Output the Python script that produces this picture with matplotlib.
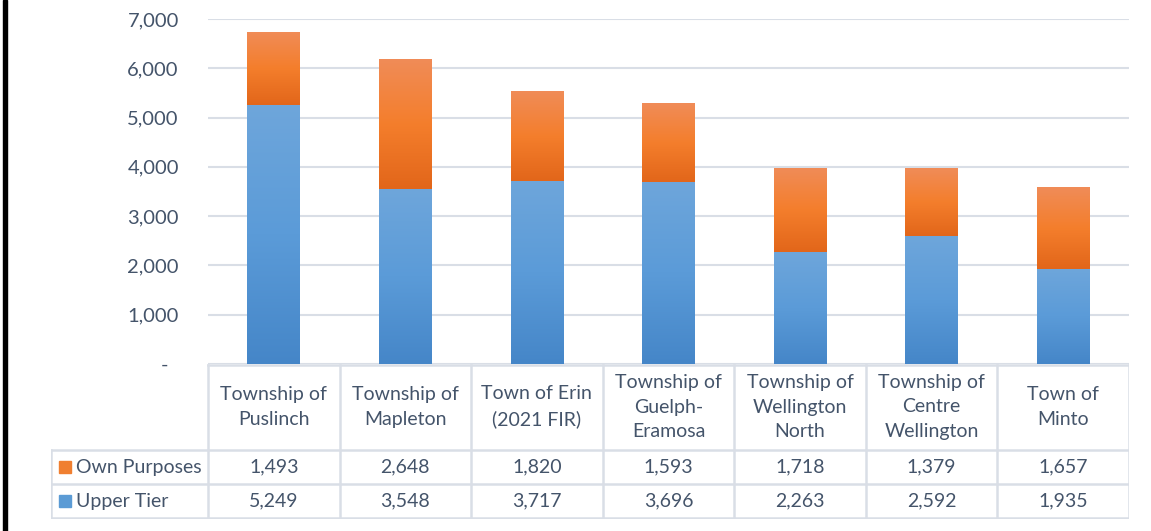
import numpy as np
import matplotlib.pyplot as plt
from matplotlib.colors import LinearSegmentedColormap
from matplotlib.patches import Rectangle
from matplotlib.ticker import FuncFormatter

# data
municipalities = ['Township of\nPuslinch', 'Township of\nMapleton', 'Town of Erin\n(2021 FIR)',
                  'Township of\nGuelph-\nEramosa', 'Township of\nWellington\nNorth',
                  'Township of\nCentre\nWellington', 'Town of\nMinto']
upper_tier = [5249, 3548, 3717, 3696, 2263, 2592, 1935]
own_purposes = [1493, 2648, 1820, 1593, 1718, 1379, 1657]
series_names = ['Own Purposes', 'Upper Tier']

plt.rcParams['font.family'] = ['Lato', 'DejaVu Sans']
TXT = '#44546A'
GRID = '#D9DEE6'
FS = 14

W, H = 1151, 531
fig = plt.figure(figsize=(W / 100, H / 100), dpi=100)
fig.patch.set_facecolor('white')

def px(l, t, r, b):
    return [l / W, 1 - b / H, (r - l) / W, (b - t) / H]

ax = fig.add_axes(px(208, 19, 1129, 364))
n = len(municipalities)
x = np.arange(n)
bw = 0.40

blue_cm = LinearSegmentedColormap.from_list('b', ['#6EA6DB', '#5B9BD8', '#4586C8'])
orange_cm = LinearSegmentedColormap.from_list('o', ['#F08C58', '#F47E2C', '#E2661A'])

b1 = ax.bar(x, upper_tier, bw, color='#5B9BD5', zorder=2)
b2 = ax.bar(x, own_purposes, bw, bottom=upper_tier, color='#ED7D31', zorder=2)

grad = np.linspace(0, 1, 256).reshape(-1, 1)
for bars, cm in [(b1, blue_cm), (b2, orange_cm)]:
    for p in bars:
        x0, y0 = p.get_x(), p.get_y()
        w, h = p.get_width(), p.get_height()
        im = ax.imshow(grad, cmap=cm, aspect='auto', extent=[x0, x0 + w, y0, y0 + h],
                       origin='upper', zorder=3)
        im.set_clip_path(p)

ax.set_xlim(-0.5, n - 0.5)
ax.set_ylim(0, 7000)
ax.set_yticks(range(0, 7001, 1000))
ax.yaxis.set_major_formatter(FuncFormatter(lambda v, _: '-  ' if v == 0 else f'{int(v):,}'))
ax.tick_params(axis='y', length=0, pad=21, labelsize=FS + 0.5, labelcolor=TXT)
ax.set_xticks([])
ax.grid(axis='y', color=GRID, lw=1.5, zorder=0)
for s in ax.spines.values():
    s.set_visible(False)

# data table underneath
legw = (208 - 51) / ((1129 - 208) / n)
tab = fig.add_axes(px(51, 364, 1129, 519))
tab.set_xlim(-0.5 - legw, n - 0.5)
tab.set_ylim(155, 0)
tab.axis('off')
lc = dict(color=GRID, lw=1.8, solid_capstyle='projecting')
tab.plot([-0.5, n - 0.5], [0.5, 0.5], **lc)
for yy in [86, 120, 154]:
    tab.plot([-0.5 - legw, n - 0.5], [yy, yy], **lc)
for i in range(n + 1):
    tab.plot([i - 0.5, i - 0.5], [0.5, 154], **lc)
tab.plot([-0.5 - legw, -0.5 - legw], [86, 154], **lc)

for i, name in enumerate(municipalities):
    tab.text(i, 43, name, ha='center', va='center', fontsize=FS, color=TXT, linespacing=1.55)
    tab.text(i, 103, f'{own_purposes[i]:,}', ha='center', va='center', fontsize=FS, color=TXT)
    tab.text(i, 137, f'{upper_tier[i]:,}', ha='center', va='center', fontsize=FS, color=TXT)

sq = 12 / ((1129 - 208) / n)
for yy, nm, col in [(103, series_names[0], '#F07F30'), (137, series_names[1], '#5B9BD5')]:
    tab.add_patch(Rectangle((-0.5 - legw + 8 / 131.6, yy - 6), sq, 12, color=col))
    tab.text(-0.5 - legw + 25 / 131.6, yy, nm, ha='left', va='center', fontsize=FS, color=TXT)

# black edge on the left
fig.add_artist(Rectangle((3 / W, 0), 4 / W, 1, color='black', transform=fig.transFigure))

fig.savefig('out.png', dpi=100)
